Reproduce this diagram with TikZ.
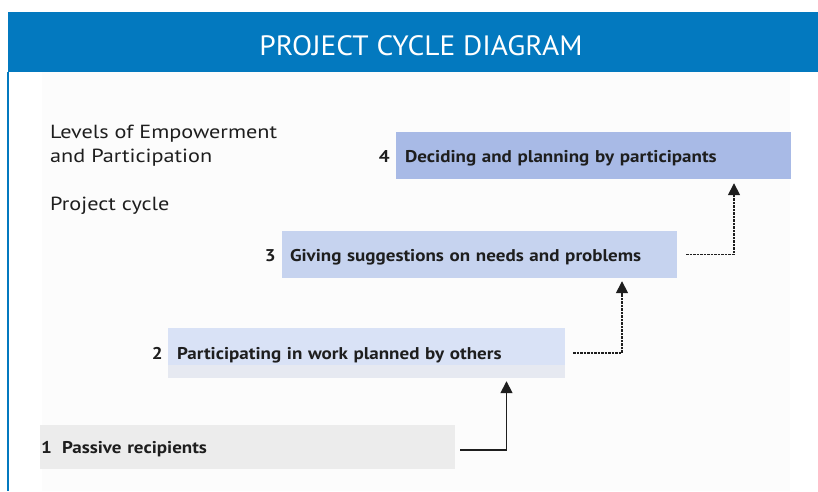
\documentclass[tikz,border=0pt]{standalone}
\usepackage{fontspec}
\setmainfont{PT Sans}
\newfontfamily\titlefont{PT Sans}[FakeStretch=1.05]
\newfontfamily\widefont{PT Sans}[FakeStretch=1.17]
\newfontfamily\stagefont{PT Sans}[FakeStretch=1.12]
\usetikzlibrary{arrows.meta}
\definecolor{headerblue}{HTML}{0379BF}
\definecolor{panelgray}{HTML}{FCFCFC}
\definecolor{lvlone}{HTML}{ECECEC}
\definecolor{lvltwo}{HTML}{D9E2F6}
\definecolor{lvltwolow}{HTML}{E6E9F1}
\definecolor{lvlthree}{HTML}{C6D3EF}
\definecolor{lvlfour}{HTML}{A8BAE6}
\definecolor{inkgray}{HTML}{1E1E1E}
\tikzset{
  stagebox/.style={rectangle, inner ysep=0pt, align=left, anchor=center,
    text height=13pt, text depth=0pt,
    text=inkgray, font=\stagefont\bfseries\fontsize{17}{20}\selectfont},
  stagenum/.style={anchor=base east, inner sep=0pt, text=inkgray,
    font=\stagefont\bfseries\fontsize{17}{20}\selectfont},
  sidelabel/.style={anchor=base west, inner sep=0pt, text=inkgray,
    font=\widefont\fontsize{19}{24}\selectfont},
  riser/.style={draw=inkgray, line width=1.6pt,
    -{Triangle[width=12pt,length=12pt]}},
  dashriser/.style={riser, dash pattern=on 2.5pt off 1pt}
}
\begin{document}
\begin{tikzpicture}[x=1pt,y=-1pt]
\useasboundingbox (0,0) rectangle (818,491);
\fill[white] (0,0) rectangle (818,491);
% page panel and title bar
\fill[panelgray] (42,72) rectangle (790,491);
\fill[headerblue] (8,12) rectangle (818,72);
\draw[headerblue, line width=2.2pt] (8,72) -- (8,491);
\node[text=white, inner sep=0pt, font=\titlefont\fontsize{28}{30}\selectfont]
  (title) at (421,46) {PROJECT CYCLE DIAGRAM};

% side labels
\node[sidelabel] (levels) at (50,138) {Levels of Empowerment};
\node[sidelabel] (partic) at (50,162) {and Participation};
\node[sidelabel] (cycle) at (50,210) {Project cycle};

% the four levels, as a staircase
\node[stagebox, fill=lvlfour, minimum height=47pt, inner xsep=9pt,
  text width=377pt] (b4) at (593.5,155.5) {Deciding and planning by participants};
\node[stagebox, fill=lvlthree, minimum height=47pt, inner xsep=8pt,
  text width=379pt] (b3) at (479.5,254.5) {Giving suggestions on needs and problems};
\node[stagebox, fill=lvltwo, minimum height=50pt, inner xsep=9pt,
  text width=379pt,
  path picture={\fill[lvltwolow] (path picture bounding box.south west)
    rectangle ([yshift=13pt]path picture bounding box.south east);}]
  (b2) at (366.5,353) {Participating in work planned by others};
\node[stagebox, fill=lvlone, minimum height=44pt, inner xsep=22pt,
  text width=371pt] (b1) at (247.5,447) {Passive recipients};

% level numbers, on the baseline of each level's text
\node[stagenum] (n4) at ([xshift=-6pt,yshift=-6.5pt]b4.west) {4};
\node[stagenum] (n3) at ([xshift=-6pt,yshift=-6.5pt]b3.west) {3};
\node[stagenum] (n2) at ([xshift=-5pt,yshift=-6.5pt]b2.west) {2};
\node[stagenum, anchor=base west] (n1) at ([xshift=1pt,yshift=-6.5pt]b1.west) {1};

% steps up from one level to the next
\draw[riser, shorten <=5pt, shorten >=3pt]
  ([yshift=-3pt]b1.east) -| ([xshift=140pt]b2.south);
\draw[dashriser, shorten <=8pt, shorten >=3pt]
  (b2.east) -| ([xshift=142.5pt]b3.south);
\draw[dashriser, shorten <=9pt, shorten >=4pt]
  (b3.east) -| ([xshift=140.5pt]b4.south);
\end{tikzpicture}
\end{document}
